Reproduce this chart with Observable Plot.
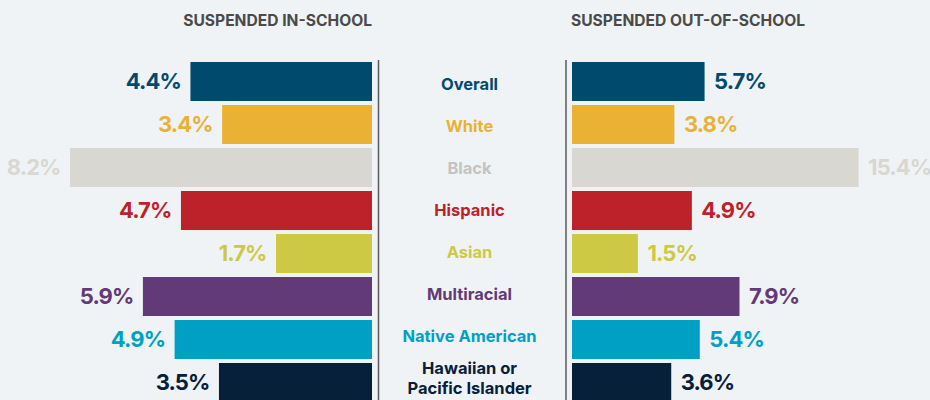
<!DOCTYPE html>
<html><head><meta charset="utf-8">
<script src="https://cdn.jsdelivr.net/npm/d3@7"></script>
<script src="https://cdn.jsdelivr.net/npm/@observablehq/plot@0.6"></script>
<style>
html,body{margin:0;padding:0;background:#f0f3f5;overflow:hidden}
#wrap{position:relative;width:930px;height:400px;overflow:hidden;font-family:Inter,sans-serif;background:#f0f3f5}
#wrap svg{position:absolute;left:0;top:0;overflow:hidden}
.title{position:absolute;top:12px;font-size:15.6px;font-weight:700;color:#4a4a4a;white-space:nowrap;line-height:18px}
</style></head><body><div id="wrap"></div>
<script>
const groups = ["Overall","White","Black","Hispanic","Asian","Multiracial","Native American","Hawaiian or\nPacific Islander"];
const inSchool = [4.4, 3.4, 8.2, 4.7, 1.7, 5.9, 4.9, 3.5];
const outSchool = [5.7, 3.8, 15.4, 4.9, 1.5, 7.9, 5.4, 3.6];
const barColors = ["#004a6e","#e9b235","#d8d7d2","#bd222b","#cdc944","#633a78","#00a0c4","#06203a"];
const labelColors = ["#004a6e","#e9b235","#c3c3c3","#bd222b","#cdc944","#633a78","#00a0c4","#06203a"];
const titles = ["SUSPENDED IN-SCHOOL","SUSPENDED OUT-OF-SCHOOL"];

const rows = groups.map((g, i) => ({group: g, inS: inSchool[i], outS: outSchool[i], bar: barColors[i], label: labelColors[i]}));
const fmt = v => v.toFixed(1) + "%";
const baseIn = -1.33, baseOut = -2.65;
const W = 930, H = 400;
const yOpts = {domain: groups, range: [60, 403], paddingInner: 0.1, paddingOuter: 0, axis: null};
const common = {width: W, height: H, marginTop: 60, marginBottom: 0, color: {type: "identity"}};
const valueStyle = {background: "transparent", fontFamily: "Inter, sans-serif", overflow: "hidden", letterSpacing: "-0.9px"};

const left = Plot.plot({...common, marginLeft: 13, marginRight: W - 372, style: valueStyle,
  x: {domain: [10, baseIn], axis: null}, y: yOpts,
  marks: [
    Plot.barX(rows, {y: "group", x1: () => baseIn, x2: "inS", fill: "bar"}),
    Plot.text(rows, {y: "group", x: "inS", text: d => fmt(d.inS), textAnchor: "end", dx: -10, fill: "bar", fontSize: 22, fontWeight: 700}),
    Plot.ruleX([baseIn], {dx: 6, stroke: "#5a5a5a", strokeWidth: 1.5})
  ]});

const center = Plot.plot({...common, marginLeft: 372, marginRight: W - 566,
  style: {background: "transparent", fontFamily: "Inter, sans-serif", overflow: "hidden"},
  y: yOpts,
  marks: [
    Plot.text(rows, {y: "group", frameAnchor: "middle", text: "group", fill: "label", fontSize: 16.5, fontWeight: 700, lineHeight: 1.2, dy: -2})
  ]});

const right = Plot.plot({...common, marginLeft: 572, marginRight: 0, style: valueStyle,
  x: {domain: [baseOut, 19.9], axis: null}, y: yOpts,
  marks: [
    Plot.barX(rows, {y: "group", x1: () => baseOut, x2: "outS", fill: "bar"}),
    Plot.text(rows, {y: "group", x: "outS", text: d => fmt(d.outS), textAnchor: "start", dx: 9, fill: "bar", fontSize: 22, fontWeight: 700}),
    Plot.ruleX([baseOut], {dx: -6.5, stroke: "#5a5a5a", strokeWidth: 1.5})
  ]});

const wrap = document.getElementById("wrap");
wrap.append(left, center, right);
const t1 = document.createElement("div"); t1.className = "title"; t1.textContent = titles[0];
t1.style.right = (W - 372) + "px";
const t2 = document.createElement("div"); t2.className = "title"; t2.textContent = titles[1];
t2.style.left = "571px";
wrap.append(t1, t2);
</script></body></html>
